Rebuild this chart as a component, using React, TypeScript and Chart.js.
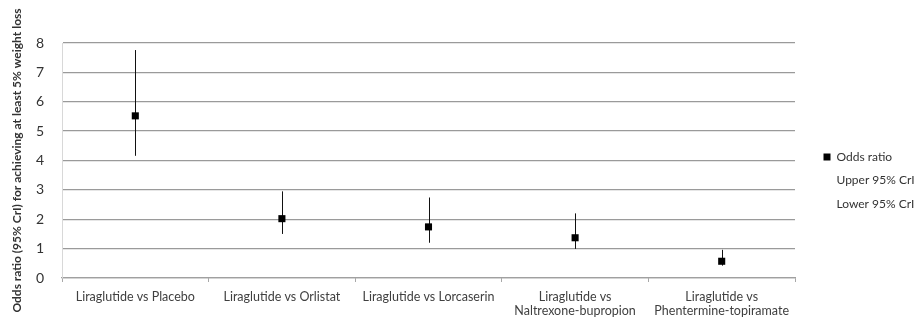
import React, { useEffect, useRef } from "react";
import { Chart, registerables } from "chart.js";

Chart.register(...registerables);

const categories: (string | string[])[] = [
  "Liraglutide vs Placebo",
  "Liraglutide vs Orlistat",
  "Liraglutide vs Lorcaserin",
  ["Liraglutide vs", "Naltrexone-bupropion"],
  ["Liraglutide vs", "Phentermine-topiramate"],
];
const oddsRatio = [5.52, 2.02, 1.74, 1.37, 0.57];
const upperCrI = [7.76, 2.95, 2.74, 2.2, 0.96];
const lowerCrI = [4.16, 1.5, 1.2, 0.99, 0.42];
const yTicks = [0, 1, 2, 3, 4, 5, 6, 7, 8];

const FONT = "Lato, 'Open Sans', sans-serif";

const errorBars = {
  id: "errorBars",
  beforeDatasetsDraw(chart: any) {
    const { ctx, scales } = chart;
    const x = scales.x;
    const y = scales.y;
    ctx.save();
    ctx.strokeStyle = "#111";
    ctx.lineWidth = 1;
    for (let i = 0; i < oddsRatio.length; i++) {
      const px = Math.round(x.getPixelForValue(i)) + 0.5;
      ctx.beginPath();
      ctx.moveTo(px, y.getPixelForValue(upperCrI[i]));
      ctx.lineTo(px, y.getPixelForValue(lowerCrI[i]));
      ctx.stroke();
    }
    ctx.restore();
  },
};

const legendPlace = {
  id: "legendPlace",
  beforeLayout(chart: any) {
    const lg: any = chart.legend;
    if (lg && !lg._patched) {
      const f = lg.fit.bind(lg);
      lg.fit = () => {
        f();
        lg.width = 123;
      };
      lg._patched = true;
    }
  },
  afterLayout(chart: any) {
    const lg: any = chart.legend;
    if (!lg) return;
    const dx = 17;
    const dy = -4;
    lg.left += dx;
    lg.right += dx;
    lg.top += dy;
    lg.bottom += dy;
  },
};

export default function App() {
  const ref = useRef<HTMLCanvasElement | null>(null);
  useEffect(() => {
    if (!ref.current) return;
    const chart = new Chart(ref.current, {
      type: "line",
      data: {
        labels: categories,
        datasets: [
          {
            label: "Odds ratio",
            data: oddsRatio,
            showLine: false,
            pointStyle: "rect",
            pointRadius: 5,
            pointHoverRadius: 5,
            backgroundColor: "#000",
            borderColor: "#000",
            pointBorderWidth: 0,
          },
          {
            label: "Upper 95% CrI",
            data: upperCrI,
            showLine: false,
            pointRadius: 0,
            backgroundColor: "transparent",
            borderColor: "transparent",
          },
          {
            label: "Lower 95% CrI",
            data: lowerCrI,
            showLine: false,
            pointRadius: 0,
            backgroundColor: "transparent",
            borderColor: "transparent",
          },
        ],
      },
      options: {
        animation: false,
        responsive: true,
        maintainAspectRatio: false,
        layout: { padding: { top: 43, right: 0, bottom: -6, left: 0 } },
        plugins: {
          tooltip: { enabled: false },
          legend: {
            position: "right",
            align: "center",
            labels: {
              boxWidth: 7,
              boxHeight: 7,
              padding: 11.5,
              color: "#333",
              font: { family: FONT, size: 12 },
              generateLabels: (c: any) =>
                c.data.datasets.map((d: any, i: number) => ({
                  text: d.label,
                  fillStyle: i === 0 ? "#000" : "rgba(0,0,0,0)",
                  strokeStyle: "rgba(0,0,0,0)",
                  lineWidth: 0,
                  fontColor: "#333",
                  hidden: false,
                  datasetIndex: i,
                })),
            },
          },
        },
        scales: {
          x: {
            type: "category",
            offset: true,
            grid: {
              offset: true,
              drawOnChartArea: false,
              drawTicks: true,
              tickLength: 4,
              color: "#a8a8a8",
            },
            border: { display: true, color: "#a0a0a0", width: 1.2 },
            ticks: {
              color: "#404040",
              padding: 8,
              maxRotation: 0,
              autoSkip: false,
              font: { family: FONT, size: 12.5, lineHeight: 1.12 },
            },
          },
          y: {
            min: 0,
            max: 8,
            afterBuildTicks: (s: any) => {
              s.ticks = yTicks.map((v) => ({ value: v }));
            },
            afterFit: (s: any) => {
              s.paddingTop = 0;
              s.paddingBottom = 0;
              s.width = 62;
            },
            grid: {
              color: "#9a9a9a",
              lineWidth: 1.3,
              drawTicks: false,
            },
            border: { display: true, color: "#d8d8d8", width: 1 },
            ticks: {
              color: "#333",
              padding: 18,
              font: { family: FONT, size: 14 },
            },
            title: {
              display: true,
              text: "Odds ratio (95% CrI) for achieving at least 5% weight loss",
              color: "#333",
              font: { family: FONT, size: 12, weight: "bold" },
              padding: { top: 10, bottom: 1 },
            },
          },
        },
      },
      plugins: [errorBars, legendPlace],
    } as any);
    return () => chart.destroy();
  }, []);
  return (
    <div style={{ position: "absolute", left: 0, top: 0, width: 918, height: 320 }}>
      <canvas ref={ref} />
    </div>
  );
}
